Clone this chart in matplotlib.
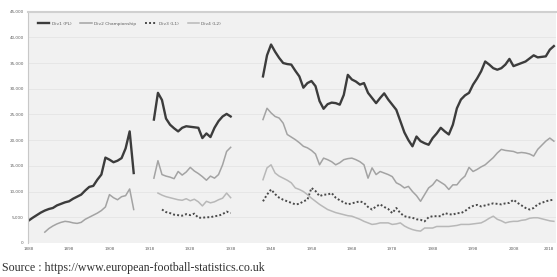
import numpy as np
import matplotlib
matplotlib.use("Agg")
import matplotlib.pyplot as plt

# ---- data (average league attendance per season, start year) ----
div1_1888 = [4350, 4900, 5400, 5900, 6300, 6600, 6800, 7300, 7600, 7900, 8100, 8600, 9000, 9400,
             10200, 10900, 11100, 12300, 13300, 16600, 16200, 15700, 16000, 16500, 18400, 21700, 13600]
div1_1919 = [24000, 29200, 27800, 24200, 23000, 22300, 21700, 22400, 22700, 22600, 22500, 22400,
             20400, 21300, 20600, 22400, 23700, 24600, 25100, 24600]
div1_1946 = [32400, 36500, 38600, 37200, 36000, 35000, 34800, 34700, 33500, 32400, 30200, 31100,
             31500, 30500, 27600, 26100, 27000, 27300, 27200, 26900, 28800, 32700, 31800, 31400,
             30800, 31100, 29200, 28200, 27200, 28200, 29100, 27900, 26900, 25900, 23700, 21500,
             20000, 18800, 20700, 19800, 19400, 19100, 20400, 21300, 22400, 21700, 21100, 23000,
             26200, 27900, 28700, 29200, 30800, 32000, 33400, 35300, 34700, 34000, 33700, 34000,
             34700, 35800, 34400, 34700, 35000, 35300, 35900, 36500, 36100, 36200, 36300, 37600, 38300]

div2_1892 = [2100, 2800, 3300, 3700, 4000, 4200, 4100, 3900, 3800, 4000, 4600, 5000, 5400, 5800,
             6300, 7000, 9400, 8800, 8400, 9000, 9200, 10500, 6500]
div2_1919 = [12600, 16000, 13300, 13000, 12800, 12500, 13900, 13200, 13800, 14700, 14000, 13500,
             12900, 12200, 13000, 12600, 13300, 15200, 17800, 18600]
div2_1946 = [24000, 26200, 25300, 24600, 24300, 23300, 21100, 20600, 20100, 19500, 18800, 18500,
             18000, 17300, 15200, 16500, 16200, 15800, 15200, 15600, 16200, 16400, 16500, 16200,
             15800, 15200, 12600, 14600, 13300, 13900, 13600, 13300, 12900, 11700, 11300, 10700,
             11000, 10000, 9200, 8100, 9400, 10700, 11300, 12300, 11800, 11300, 10400, 11300,
             11300, 12300, 13000, 14700, 13900, 14300, 14800, 15200, 15900, 16600, 17500, 18200,
             18000, 17900, 17800, 17500, 17600, 17500, 17300, 16900, 18200, 19000, 19800, 20400, 19800]

div3_1921 = [6500, 6000, 5800, 5500, 5400, 5300, 5600, 5400, 5700, 4900, 4900, 5000, 5000, 5200,
             5300, 5600, 6100, 5800]
div3_1946 = [8100, 9400, 10400, 9500, 8800, 8400, 8100, 7800, 7500, 7600, 8100, 8400, 10700, 10100,
             9100, 9400, 9400, 9700, 8800, 8300, 7900, 7500, 7700, 7900, 8100, 7800, 7000, 6500,
             7100, 7500, 7000, 6600, 5800, 6800, 5800, 5200, 5000, 4900, 4600, 4500, 4200, 5000,
             5200, 5200, 5200, 5800, 5600, 5500, 5800, 5800, 6200, 6800, 7200, 7400, 7100, 7300,
             7500, 7700, 7600, 7500, 7700, 7800, 8400, 7800, 7300, 6800, 6500, 6800, 7500, 7800,
             8100, 8300, 8400]

div4_1920 = [9700, 9300, 9000, 8800, 8600, 8400, 8300, 8600, 8200, 8500, 8000, 7200, 8100, 7800,
             8000, 8400, 8700, 9700, 8800]
div4_1946 = [12300, 14600, 15200, 13600, 13000, 12600, 12200, 11700, 10700, 10400, 10000, 9400,
             8700, 8100, 7500, 7000, 6500, 6200, 5900, 5700, 5500, 5300, 5200, 4900, 4600, 4200,
             3900, 3600, 3700, 3900, 3900, 3900, 3600, 3700, 3900, 3300, 2900, 2600, 2400, 2300,
             2900, 2900, 2900, 3200, 3200, 3200, 3200, 3300, 3400, 3600, 3600, 3600, 3700, 3800,
             3900, 4300, 4800, 5200, 4600, 4300, 3900, 4100, 4200, 4200, 4400, 4500, 4800, 4900,
             4900, 4700, 4500, 4300, 4200]

labels = ["Div1 (PL)", "Div2 Championship", "Div3 (L1)", "Div4 (L2)"]
xtick_years = list(range(1888, 2019, 10))
yticks = list(range(0, 45001, 5000))

years = np.arange(1888, 2019)


def build(pieces):
    arr = np.full(len(years), np.nan)
    for start, vals in pieces:
        i = start - 1888
        arr[i:i + len(vals)] = vals
    return arr


s1 = build([(1888, div1_1888), (1919, div1_1919), (1946, div1_1946)])
s2 = build([(1892, div2_1892), (1919, div2_1919), (1946, div2_1946)])
s3 = build([(1921, div3_1921), (1946, div3_1946)])
s4 = build([(1920, div4_1920), (1946, div4_1946)])

fig = plt.figure(figsize=(5.57, 2.77), dpi=100)
fig.patch.set_facecolor("white")
ax = fig.add_axes([0.050, 0.123, 0.948, 0.835])
ax.set_facecolor("#f1f1f1")

for y in yticks[1:]:
    ax.axhline(y, color="#e2e2e2", lw=0.5, zorder=0)

ax.plot(years, s1, color="#3c3c3c", lw=1.7, label=labels[0], solid_joinstyle="round")
ax.plot(years, s2, color="#a3a3a3", lw=1.1, label=labels[1])
ax.plot(years, s3, color="#4a4a4a", lw=1.4, linestyle=(0, (1, 1.1)), dash_capstyle="butt",
        label=labels[2])
ax.plot(years, s4, color="#b8b8b8", lw=1.1, label=labels[3])

ax.set_xlim(1887.8, 2018.5)
ax.set_ylim(0, 45000)
ax.set_yticks(yticks)
ax.set_yticklabels([f"{v:,}" for v in yticks], fontsize=3, color="#606060")
ax.set_xticks(xtick_years)
xl = ax.set_xticklabels([str(y) for y in xtick_years], fontsize=3, color="#606060")
xl[-1].set_horizontalalignment("right")
ax.tick_params(length=0, pad=3)

for side in ["right", "bottom"]:
    ax.spines[side].set_visible(False)
ax.spines["left"].set_color("#c8c8c8")
ax.spines["left"].set_linewidth(0.8)
ax.spines["top"].set_color("#d0d0d0")
ax.spines["top"].set_linewidth(1.5)

ax.legend(loc="upper left", bbox_to_anchor=(0.012, 0.975), ncol=4, frameon=False,
          fontsize=3.2, handlelength=2.5, columnspacing=2.0, handletextpad=0.6,
          labelcolor="#606060")

fig.text(0.004, 0.032, "Source : https://www.european-football-statistics.co.uk",
         fontsize=8.6, family="Liberation Serif", color="#303030", ha="left", va="center")

fig.savefig("out.png", dpi=100)
